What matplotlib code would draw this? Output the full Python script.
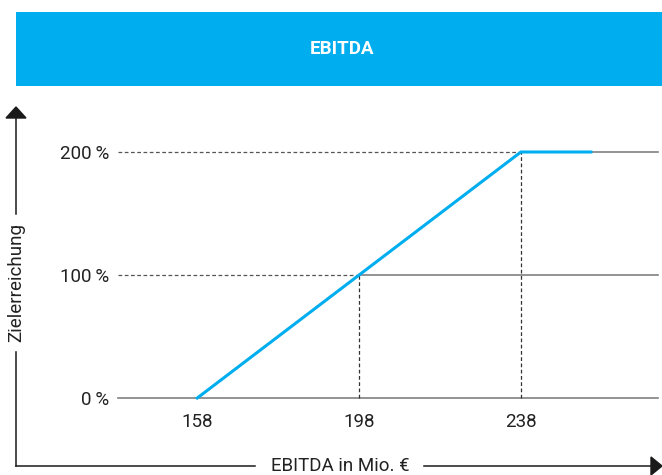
import matplotlib.pyplot as plt
from matplotlib.patches import Rectangle
from matplotlib.lines import Line2D

plt.rcParams['font.family'] = ['Roboto', 'DejaVu Sans']

# data
ebitda = [158, 198, 238, 255.3]
target = [0, 100, 200, 200]
x_ticks = [158, 198, 238]
x_tick_labels = ['158', '198', '238']
y_ticks = [0, 100, 200]
y_tick_labels = ['0\u2009%', '100\u2009%', '200\u2009%']
title = 'EBITDA'
x_label = 'EBITDA in Mio. €'
y_label = 'Zielerreichung'

W, H = 662, 475
fig = plt.figure(figsize=(W / 100, H / 100), dpi=100)
fs = 13.5


def fx(px):
    return px / W


def fy(py):
    return 1 - py / H


# blue banner
fig.patches.append(Rectangle((fx(16), fy(86)), fx(646), 74 / H, transform=fig.transFigure,
                             facecolor='#00AEEF', edgecolor='none'))
fig.text(fx(342), fy(49), title, color='white', fontweight='bold', fontsize=fs,
         ha='center', va='center')

ax = fig.add_axes([fx(118), fy(398), fx(540), (398 - 152) / H])
ax.set_xlim(138.4, 271.9)
ax.set_ylim(0, 200)
for s in ax.spines.values():
    s.set_visible(False)

grey = '#808080'
# grid lines: dashed left of the curve, solid right of it
ax.plot([138.4, 271.9], [0, 0], color=grey, lw=1.2, clip_on=False, zorder=1)
ax.plot([138.4, 198], [100, 100], color='#555555', lw=0.9, ls=(0, (3, 2)), clip_on=False)
ax.plot([198, 271.9], [100, 100], color=grey, lw=1.2, clip_on=False, zorder=1)
ax.plot([138.4, 238], [200, 200], color='#555555', lw=0.9, ls=(0, (3, 2)), clip_on=False)
ax.plot([238, 271.9], [200, 200], color=grey, lw=1.2, clip_on=False, zorder=1)
ax.plot([198, 198], [0, 100], color='#333333', lw=0.9, ls=(0, (3, 2)), clip_on=False)
ax.plot([238, 238], [0, 200], color='#333333', lw=0.9, ls=(0, (3, 2)), clip_on=False)

ax.plot(ebitda, target, color='#00AEEF', lw=2.2, clip_on=False, zorder=3)

ax.set_xticks(x_ticks)
ax.set_xticklabels(x_tick_labels)
ax.set_yticks(y_ticks)
ax.set_yticklabels(y_tick_labels)
ax.tick_params(length=0, labelsize=fs, colors='#222222')
ax.tick_params(axis='x', pad=11)
ax.tick_params(axis='y', pad=6)

# axis arrows in figure pixels
k = '#1a1a1a'
fig.lines.append(Line2D([fx(16), fx(16)], [fy(466), fy(352)], transform=fig.transFigure, color=k, lw=1.1))
fig.lines.append(Line2D([fx(16), fx(16)], [fy(214), fy(116)], transform=fig.transFigure, color=k, lw=1.1))
fig.lines.append(Line2D([fx(16), fx(255)], [fy(466), fy(466)], transform=fig.transFigure, color=k, lw=1.1))
fig.lines.append(Line2D([fx(424), fx(652)], [fy(466), fy(466)], transform=fig.transFigure, color=k, lw=1.1))
fig.patches.append(plt.Polygon([[fx(6), fy(118)], [fx(26), fy(118)], [fx(16), fy(107)]],
                               closed=True, transform=fig.transFigure, color=k))
fig.patches.append(plt.Polygon([[fx(651), fy(457)], [fx(651), fy(475)], [fx(662), fy(466)]],
                               closed=True, transform=fig.transFigure, color=k))
fig.text(fx(16), fy(283), y_label, rotation=90, ha='center', va='center', fontsize=fs, color='#222222')
fig.text(fx(340), fy(466), x_label, ha='center', va='center', fontsize=fs, color='#222222')

fig.savefig('out.png', dpi=100)
